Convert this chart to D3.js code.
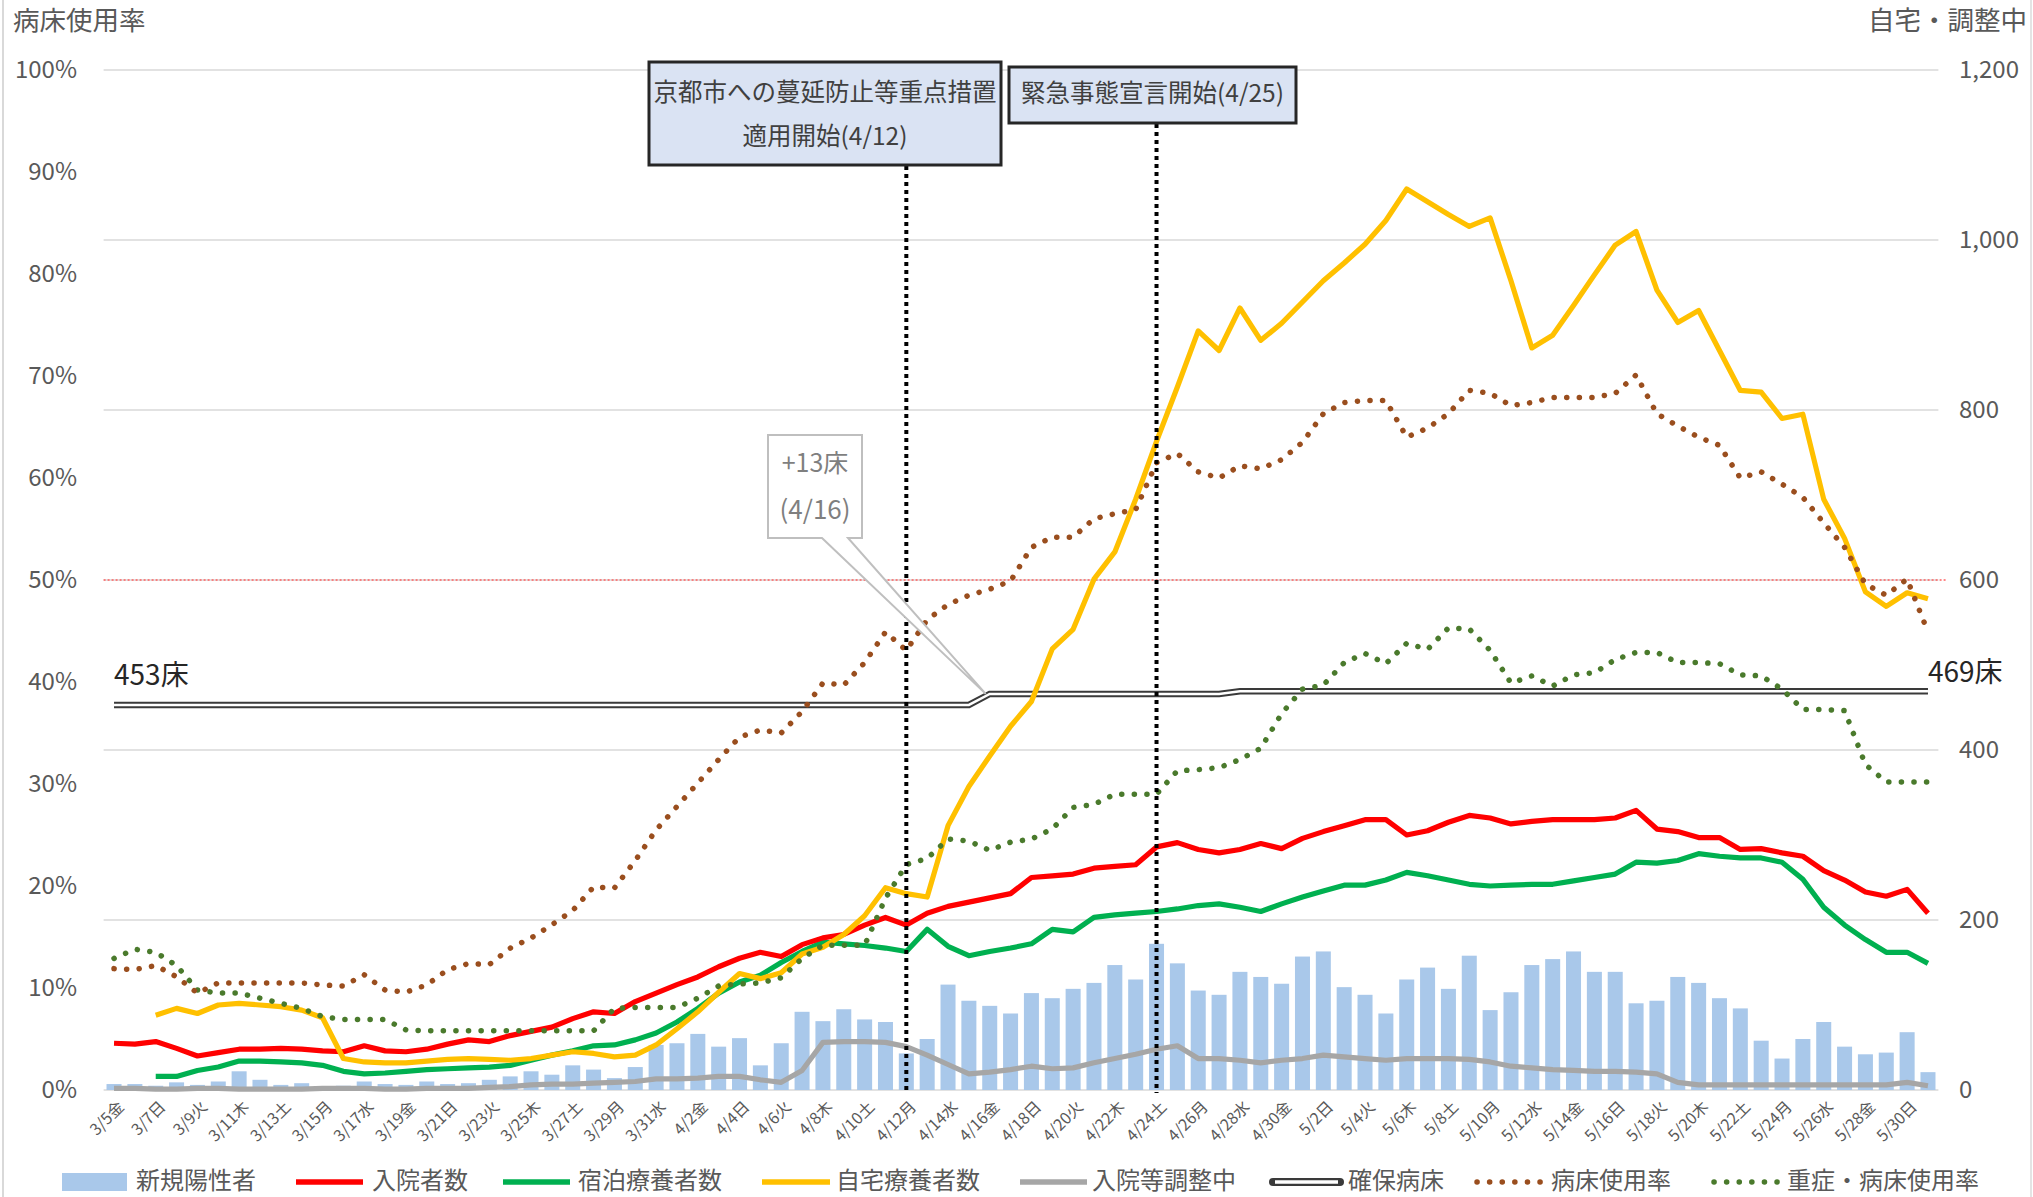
<!DOCTYPE html>
<html>
<head>
<meta charset="utf-8">
<script src="https://cdn.jsdelivr.net/npm/d3@7"></script>
<style>
  html, body { margin: 0; padding: 0; background: #fff; }
  svg { display: block; font-family: "Noto Sans CJK JP", "Noto Sans", sans-serif; }
</style>
</head>
<body>
<div id="chart"></div>
<script>
const width = 2033;
const height = 1197;

// categories: 2021/3/5 .. 2021/5/31
const dates = d3.timeDay.range(new Date(2021, 2, 5), new Date(2021, 5, 1));
const weekdays = ["日", "月", "火", "水", "木", "金", "土"];

// 新規陽性者 (right axis)
const newCases = [7, 7, 5, 9, 6, 10, 22, 12, 6, 8, 4, 5, 10, 7, 6, 10, 7, 8, 12, 16,
  22, 18, 29, 24, 14, 27, 53, 55, 66, 51, 61, 29, 55, 92, 81, 95, 83, 80, 43, 60,
  124, 105, 99, 90, 114, 108, 119, 126, 147, 130, 172, 149, 117, 112, 139, 133, 125, 157, 163, 121,
  112, 90, 130, 144, 119, 158, 94, 115, 147, 154, 163, 139, 139, 102, 105, 133, 126, 108, 96, 58,
  37, 60, 80, 51, 42, 44, 68, 21];

// 入院者数
const hospitalized = [55, 54, 57, 49, 40, 44, 48, 48, 49, 48, 46, 45, 52, 46, 45, 48, 54, 59, 57, 64,
  69, 74, 84, 92, 90, 104, 114, 124, 133, 145, 155, 162, 157, 171, 179, 183, 194, 203, 194, 208,
  216, 221, 226, 231, 250, 252, 254, 261, 263, 265, 286, 291, 283, 279, 283, 290, 284, 296, 304, 311,
  318, 318, 300, 305, 315, 323, 320, 313, 316, 318, 318, 318, 320, 329, 307, 304, 297, 297, 283, 284,
  279, 275, 258, 247, 233, 228, 236, 208];

// 宿泊療養者数
const hotel = [null, null, 16, 16, 23, 27, 34, 34, 33, 32, 29, 22, 19, 20, 22, 24, 25, 26, 27, 29,
  35, 41, 46, 52, 53, 59, 67, 80, 96, 114, 127, 135, 150, 163, 174, 172, 170, 167, 163, 189,
  169, 158, 163, 167, 172, 189, 186, 203, 206, 208, 210, 213, 217, 219, 215, 210, 219, 227, 234, 241,
  241, 247, 256, 252, 247, 242, 240, 241, 242, 242, 246, 250, 254, 268, 267, 270, 278, 275, 273, 273,
  268, 248, 215, 194, 177, 162, 162, 149];

// 自宅療養者数
const home = [null, null, 88, 96, 90, 100, 102, 100, 98, 94, 85, 37, 33, 32, 32, 34, 36, 37, 36, 35,
  37, 41, 45, 43, 39, 41, 53, 72, 92, 115, 137, 131, 138, 160, 168, 183, 205, 238, 231, 227,
  311, 357, 393, 428, 457, 519, 542, 601, 633, 695, 763, 827, 893, 870, 920, 882, 902, 927, 952, 973,
  995, 1023, 1060, 1045, 1030, 1016, 1026, 952, 873, 888, 923, 959, 994, 1010, 941, 903, 917, 870, 823, 821,
  790, 795, 695, 649, 586, 569, 585, 578];

// 入院等調整中
const adjusting = [2, 2, 1, 1, 2, 2, 1, 1, 1, 1, 2, 2, 2, 1, 1, 2, 2, 2, 3, 4,
  6, 7, 7, 8, 9, 10, 13, 13, 14, 16, 16, 12, 9, 23, 56, 57, 57, 56, 51, 41,
  30, 19, 21, 24, 28, 25, 26, 32, 37, 42, 48, 52, 37, 37, 35, 32, 35, 37, 41, 39,
  37, 35, 37, 37, 37, 36, 33, 28, 26, 24, 23, 22, 22, 21, 19, 9, 6, 6, 6, 6,
  6, 6, 6, 6, 6, 6, 9, 5];

// 確保病床
const beds = [453, 453, 453, 453, 453, 453, 453, 453, 453, 453, 453, 453, 453, 453, 453, 453, 453, 453, 453, 453,
  453, 453, 453, 453, 453, 453, 453, 453, 453, 453, 453, 453, 453, 453, 453, 453, 453, 453, 453, 453,
  453, 453, 466, 466, 466, 466, 466, 466, 466, 466, 466, 466, 466, 466, 469, 469, 469, 469, 469, 469,
  469, 469, 469, 469, 469, 469, 469, 469, 469, 469, 469, 469, 469, 469, 469, 469, 469, 469, 469, 469,
  469, 469, 469, 469, 469, 469, 469, 469];

// 病床使用率 (%)
const bedRate = [11.9, 11.8, 12.2, 11.1, 9.5, 10.5, 10.5, 10.5, 10.5, 10.5, 10.3, 10.2, 11.3, 9.8, 9.6, 10.3, 11.8, 12.4, 12.3, 13.9,
  14.9, 16.2, 17.6, 19.9, 19.8, 22.5, 25.5, 27.8, 30.1, 32.4, 34.6, 35.3, 35.0, 37.1, 39.9, 39.7, 41.9, 44.9, 43.1, 46.1,
  47.6, 48.5, 49.1, 49.9, 53.2, 54.2, 54.2, 56.0, 56.5, 56.9, 61.5, 62.4, 60.6, 60.0, 61.2, 60.9, 61.8, 63.5, 66.3, 67.4,
  67.6, 67.6, 64.0, 64.9, 66.3, 68.6, 68.3, 67.1, 67.4, 67.9, 67.9, 67.9, 68.3, 70.1, 66.3, 65.1, 64.0, 63.2, 60.0, 60.6,
  59.4, 58.1, 55.6, 53.2, 49.6, 48.5, 50.1, 44.9];

// 重症・病床使用率 (%)
const severeRate = [12.9, 13.8, 13.5, 12.2, 9.8, 9.5, 9.5, 9.0, 8.5, 8.0, 7.2, 6.9, 6.9, 6.9, 5.9, 5.8, 5.8, 5.8, 5.8, 5.8,
  5.8, 5.8, 5.8, 5.8, 8.0, 8.1, 8.1, 8.1, 9.0, 10.2, 10.4, 10.5, 11.0, 12.9, 14.2, 14.2, 14.2, 18.8, 22.1, 22.7,
  24.6, 24.4, 23.5, 24.3, 24.6, 25.6, 27.7, 28.0, 29.0, 29.0, 29.0, 31.3, 31.4, 31.6, 32.4, 33.5, 36.9, 39.3, 39.7, 41.9,
  42.8, 41.8, 43.8, 43.2, 45.3, 45.2, 43.1, 39.9, 40.6, 39.6, 40.7, 40.9, 42.2, 42.9, 42.9, 41.9, 41.9, 41.8, 40.7, 40.6,
  39.3, 37.3, 37.3, 37.2, 31.9, 30.2, 30.2, 30.2];

const leftTicks = [0, 10, 20, 30, 40, 50, 60, 70, 80, 90, 100];
const rightTicks = [0, 200, 400, 600, 800, 1000, 1200];

const series = [
  { name: "入院等調整中", values: adjusting, color: "#a6a6a6" },
  { name: "宿泊療養者数", values: hotel, color: "#00b050" },
  { name: "入院者数", values: hospitalized, color: "#ff0000" },
  { name: "自宅療養者数", values: home, color: "#ffc000" }
];
const dotted = [
  { name: "重症・病床使用率", values: severeRate, color: "#4a7a2c" },
  { name: "病床使用率", values: bedRate, color: "#9a4e1e" }
];

const plotLeft = 103.6, plotRight = 1938.4, plotTop = 70, plotBottom = 1090;

const x = d3.scaleBand().domain(d3.range(dates.length))
  .range([plotLeft, plotRight]).paddingInner(0.28).paddingOuter(0.14);
const xc = i => x(i) + x.bandwidth() / 2;
const yR = d3.scaleLinear().domain([0, 1200]).range([plotBottom, plotTop]);
const yL = d3.scaleLinear().domain([0, 100]).range([plotBottom, plotTop]);

const svg = d3.select("#chart").append("svg")
  .attr("width", width).attr("height", height);

// chart border
svg.append("line").attr("x1", 3).attr("x2", 3).attr("y1", 0).attr("y2", height)
  .attr("stroke", "#d9d9d9").attr("stroke-width", 2);
svg.append("line").attr("x1", 2031).attr("x2", 2031).attr("y1", 0).attr("y2", height)
  .attr("stroke", "#e4e4e4").attr("stroke-width", 2);

// gridlines
svg.append("g").selectAll("line").data(rightTicks).enter().append("line")
  .attr("x1", plotLeft).attr("x2", plotRight)
  .attr("y1", d => yR(d)).attr("y2", d => yR(d))
  .attr("stroke", "#d9d9d9").attr("stroke-width", 1.6);

// axes
const axisL = svg.append("g").attr("transform", "translate(80,0)")
  .call(d3.axisLeft(yL).tickValues(leftTicks).tickFormat(d => d + "%").tickSize(0).tickPadding(3));
const axisR = svg.append("g").attr("transform", "translate(1952,0)")
  .call(d3.axisRight(yR).tickValues(rightTicks).tickFormat(d3.format(",")).tickSize(0).tickPadding(7));
[axisL, axisR].forEach(a => {
  a.select(".domain").remove();
  a.selectAll("text").attr("font-size", 24).attr("fill", "#595959")
    .style("font-family", "'Noto Sans CJK JP', sans-serif");
});

const axisX = svg.append("g").attr("transform", `translate(0,${plotBottom})`)
  .call(d3.axisBottom(x).tickValues(d3.range(0, dates.length, 2)).tickSize(0)
    .tickFormat(i => `${dates[i].getMonth() + 1}/${dates[i].getDate()}${weekdays[dates[i].getDay()]}`));
axisX.select(".domain").remove();
axisX.selectAll("text")
  .attr("x", 0).attr("y", 0).attr("dy", "0.35em")
  .attr("text-anchor", "end")
  .attr("transform", "translate(7,14) rotate(-45)")
  .attr("font-size", 16).attr("fill", "#595959")
  .style("font-family", "'Noto Sans CJK JP', sans-serif");

// bars
svg.append("g").selectAll("rect").data(newCases).enter().append("rect")
  .attr("x", (d, i) => x(i)).attr("width", x.bandwidth())
  .attr("y", d => yR(d)).attr("height", d => plotBottom - yR(d))
  .attr("fill", "#a9c8ea");

// 50% reference line
svg.append("line").attr("x1", plotLeft).attr("x2", plotRight + 8)
  .attr("y1", yL(50)).attr("y2", yL(50))
  .attr("stroke", "#ff6060").attr("stroke-width", 1.6).attr("stroke-dasharray", "2,2");

const lineR = d3.line().defined(d => d != null).x((d, i) => xc(i)).y(d => yR(d));
const lineL = d3.line().defined(d => d != null).x((d, i) => xc(i)).y(d => yL(d));

// 確保病床 (double line)
svg.append("path").datum(beds).attr("d", lineR).attr("fill", "none")
  .attr("stroke", "#3a3a3a").attr("stroke-width", 6.5);
svg.append("path").datum(beds).attr("d", lineR).attr("fill", "none")
  .attr("stroke", "#ffffff").attr("stroke-width", 2.5);

series.forEach(s => {
  svg.append("path").datum(s.values).attr("d", lineR).attr("fill", "none")
    .attr("stroke", s.color).attr("stroke-width", 5.2).attr("stroke-linejoin", "round");
});

dotted.forEach(s => {
  svg.append("path").datum(s.values).attr("d", lineL).attr("fill", "none")
    .attr("stroke", s.color).attr("stroke-width", 5.5)
    .attr("stroke-linecap", "round").attr("stroke-dasharray", "0.1,12.5");
});

// bed labels
svg.append("text").attr("x", xc(0)).attr("y", yR(beds[0]) - 28)
  .attr("font-size", 28).attr("fill", "#262626").attr("dominant-baseline", "middle")
  .text("453床");
svg.append("text").attr("x", xc(dates.length - 1)).attr("y", yR(beds[beds.length - 1]) - 17)
  .attr("font-size", 28).attr("fill", "#262626").attr("dominant-baseline", "middle")
  .text("469床");

// event lines (4/12, 4/24)
const ev1 = 38, ev2 = 50;
svg.append("line").attr("x1", xc(ev1)).attr("x2", xc(ev1)).attr("y1", 166).attr("y2", plotBottom + 3)
  .attr("stroke", "#000").attr("stroke-width", 4).attr("stroke-dasharray", "4,4");
svg.append("line").attr("x1", xc(ev2)).attr("x2", xc(ev2)).attr("y1", 124).attr("y2", plotBottom + 3)
  .attr("stroke", "#000").attr("stroke-width", 4).attr("stroke-dasharray", "4,4");

// event boxes
function eventBox(x0, y0, w, h, lines, lineYs) {
  svg.append("rect").attr("x", x0).attr("y", y0).attr("width", w).attr("height", h)
    .attr("fill", "#dae3f3").attr("stroke", "#262626").attr("stroke-width", 3);
  lines.forEach((t, k) => {
    svg.append("text").attr("x", x0 + w / 2).attr("y", lineYs[k])
      .attr("text-anchor", "middle").attr("dominant-baseline", "middle")
      .attr("font-size", 24.5).attr("fill", "#404040").text(t);
  });
}
eventBox(649, 62, 352, 103, ["京都市への蔓延防止等重点措置", "適用開始(4/12)"], [94, 138]);
eventBox(1009, 67, 287, 56, ["緊急事態宣言開始(4/25)"], [95]);

// +13床 callout
const tipX = xc(42) - 4, tipY = yR(466);
svg.append("path")
  .attr("d", `M768,435 H862 V538 H848 L${tipX},${tipY} L822,538 H768 Z`)
  .attr("fill", "#fff").attr("stroke", "#bfbfbf").attr("stroke-width", 2);
svg.append("text").attr("x", 815).attr("y", 465).attr("text-anchor", "middle")
  .attr("dominant-baseline", "middle").attr("font-size", 25).attr("fill", "#7f7f7f").text("+13床");
svg.append("text").attr("x", 815).attr("y", 512).attr("text-anchor", "middle")
  .attr("dominant-baseline", "middle").attr("font-size", 26).attr("fill", "#7f7f7f").text("(4/16)");

// axis titles
svg.append("text").attr("x", 13).attr("y", 23).attr("dominant-baseline", "middle")
  .attr("font-size", 26.5).attr("fill", "#595959").text("病床使用率");
svg.append("text").attr("x", 2027).attr("y", 23).attr("dominant-baseline", "middle")
  .attr("text-anchor", "end").attr("font-size", 26.5).attr("fill", "#595959").text("自宅・調整中");

// legend
const ly = 1182;
const legend = [
  { type: "bar", x0: 62, x1: 127, tx: 136, label: "新規陽性者", color: "#a9c8ea" },
  { type: "line", x0: 296, x1: 363, tx: 372, label: "入院者数", color: "#ff0000" },
  { type: "line", x0: 503, x1: 570, tx: 578, label: "宿泊療養者数", color: "#00b050" },
  { type: "line", x0: 762, x1: 830, tx: 836, label: "自宅療養者数", color: "#ffc000" },
  { type: "line", x0: 1020, x1: 1087, tx: 1092, label: "入院等調整中", color: "#a6a6a6" },
  { type: "double", x0: 1273, x1: 1340, tx: 1348, label: "確保病床", color: "#3a3a3a" },
  { type: "dot", x0: 1474, x1: 1543, tx: 1551, label: "病床使用率", color: "#9a4e1e" },
  { type: "dot", x0: 1711, x1: 1779, tx: 1787, label: "重症・病床使用率", color: "#4a7a2c" }
];
const lg = svg.append("g");
legend.forEach(l => {
  if (l.type === "bar") {
    lg.append("rect").attr("x", l.x0).attr("y", ly - 9).attr("width", l.x1 - l.x0).attr("height", 18)
      .attr("fill", l.color);
  } else if (l.type === "line") {
    lg.append("line").attr("x1", l.x0).attr("x2", l.x1).attr("y1", ly).attr("y2", ly)
      .attr("stroke", l.color).attr("stroke-width", 5.5);
  } else if (l.type === "double") {
    lg.append("line").attr("x1", l.x0).attr("x2", l.x1).attr("y1", ly).attr("y2", ly)
      .attr("stroke", l.color).attr("stroke-width", 8).attr("stroke-linecap", "round");
    lg.append("line").attr("x1", l.x0 + 2).attr("x2", l.x1 - 2).attr("y1", ly).attr("y2", ly)
      .attr("stroke", "#fff").attr("stroke-width", 3.5);
  } else {
    lg.append("line").attr("x1", l.x0 + 3).attr("x2", l.x1).attr("y1", ly).attr("y2", ly)
      .attr("stroke", l.color).attr("stroke-width", 5.5)
      .attr("stroke-linecap", "round").attr("stroke-dasharray", "0.1,12.5");
  }
  lg.append("text").attr("x", l.tx).attr("y", ly).attr("dominant-baseline", "middle")
    .attr("font-size", 24).attr("fill", "#595959").text(l.label);
});
</script>
</body>
</html>
